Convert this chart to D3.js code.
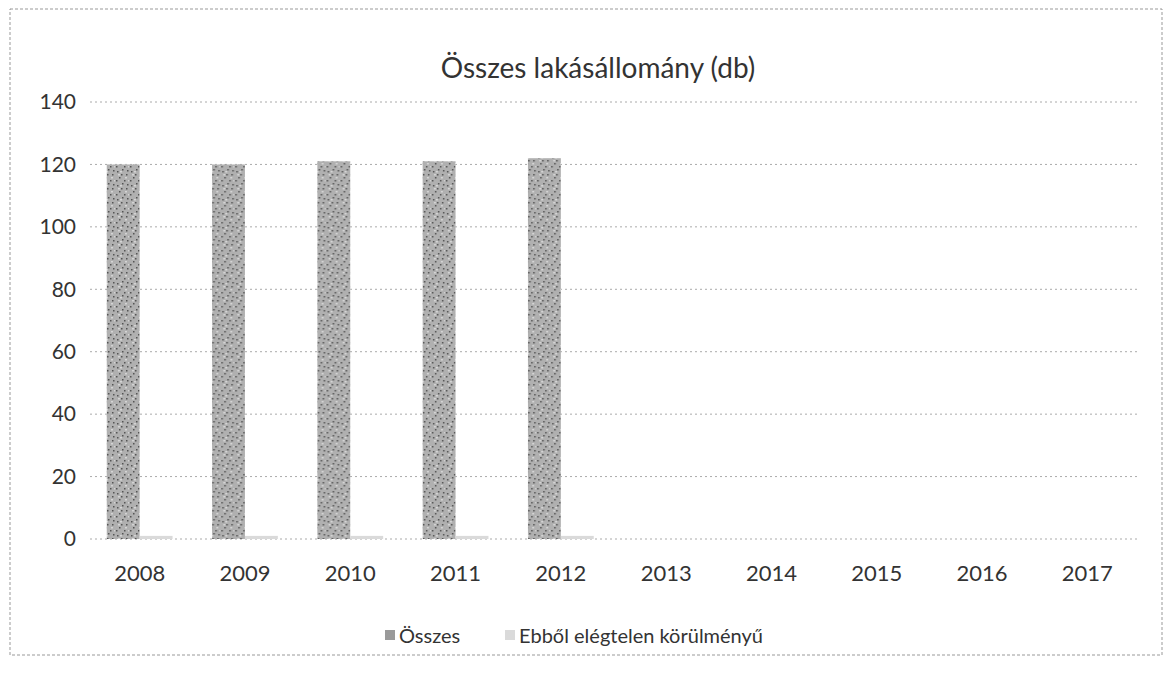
<!DOCTYPE html>
<html><head><meta charset="utf-8">
<script src="https://cdn.jsdelivr.net/npm/d3@7"></script>
<style>body{margin:0;background:#fff;} text{font-family:Lato,"Open Sans",sans-serif;fill:#333;}</style>
</head><body>
<svg id="c" width="1170" height="676"></svg>
<script>
const categories = ["2008","2009","2010","2011","2012","2013","2014","2015","2016","2017"];
const seriesNames = ["Összes","Ebből elégtelen körülményű"];
const osszes = [120,120,121,121,122,null,null,null,null,null];
const elegtelen = [1,1,1,1,1,null,null,null,null,null];
const yTicks = [0,20,40,60,80,100,120,140];
const title = "Összes lakásállomány (db)";

const svg = d3.select("#c");
const m={l:87,r:1140,t:102,b:539};
// border
svg.append("rect").attr("x",10).attr("y",9).attr("width",1152).attr("height",646)
  .attr("fill","none").attr("stroke","#999").attr("stroke-width",1).attr("stroke-dasharray","3,2");

const x = d3.scaleBand().domain(categories).range([m.l,m.r]).paddingInner(0).paddingOuter(0);
const x1 = d3.scaleBand().domain(seriesNames).range([0,x.bandwidth()]).paddingInner(0).paddingOuter(0.6);
const y = d3.scaleLinear().domain([0,140]).range([m.b,m.t]);

// gridlines
svg.append("g").selectAll("line").data(yTicks).join("line")
  .attr("x1",m.l+3).attr("x2",m.r).attr("y1",d=>y(d)).attr("y2",d=>y(d))
  .attr("stroke","#aaa").attr("stroke-width",1).attr("stroke-dasharray","2,3");

// y axis labels
const ya = svg.append("g").attr("transform",`translate(${m.l-11},0)`)
  .call(d3.axisLeft(y).tickValues(yTicks).tickSize(0).tickPadding(0));
ya.select(".domain").remove();
ya.selectAll("text").style("font-size","21px").style("font-family","Lato").attr("fill","#333");

// x axis labels
const xa = svg.append("g").attr("transform",`translate(0,${m.b+26})`)
  .call(d3.axisBottom(x).tickSize(0).tickPadding(0));
xa.select(".domain").remove();
xa.selectAll("text").style("font-size","22px").style("font-family","Lato").attr("fill","#333").attr("dy","0.72em");

const data = categories.map((c,i)=>({c, vals:[{s:seriesNames[0],v:osszes[i]},{s:seriesNames[1],v:elegtelen[i]}]}));
const colors = {"Összes":"#a8a8a8","Ebből elégtelen körülményű":"#dadada"};

// speckle pattern
const defs = svg.append("defs");
const pat = defs.append("pattern").attr("id","spk").attr("width",14).attr("height",14).attr("patternUnits","userSpaceOnUse");
pat.append("rect").attr("width",14).attr("height",14).attr("fill","#b0b0b0");
[[2,3],[7,1],[11,6],[4,9],[9,12],[1,12],[12,2],[6,6]].forEach(p=>pat.append("rect").attr("x",p[0]).attr("y",p[1]).attr("width",1.5).attr("height",1.5).attr("fill","#555"));
[[5,3],[10,9],[3,6],[13,12]].forEach(p=>pat.append("rect").attr("x",p[0]).attr("y",p[1]).attr("width",2).attr("height",1.5).attr("fill","#d4d4d4"));

svg.append("g").selectAll("g").data(data).join("g")
  .attr("transform",d=>`translate(${x(d.c)},0)`)
  .selectAll("rect").data(d=>d.vals.filter(v=>v.v!=null)).join("rect")
  .attr("x",d=>x1(d.s)).attr("width",x1.bandwidth())
  .attr("y",d=>y(d.v)).attr("height",d=>y(0)-y(d.v))
  .attr("fill",d=>d.s===seriesNames[0]?"url(#spk)":colors[d.s]);

// title
svg.append("text").attr("x",598).attr("y",78).attr("text-anchor","middle")
  .style("font-size","28px").text(title);

// legend
const lg = svg.append("g").attr("transform","translate(385,636)");
const items=[{s:seriesNames[0],x:0},{s:seriesNames[1],x:120}];
items.forEach(it=>{
  lg.append("rect").attr("x",it.x).attr("y",-6).attr("width",10).attr("height",10)
    .attr("fill",it.s===seriesNames[0]?"#9a9a9a":colors[it.s]);
  lg.append("text").attr("x",it.x+14).attr("y",7).style("font-size","20px").text(it.s);
});
</script>
</body></html>
